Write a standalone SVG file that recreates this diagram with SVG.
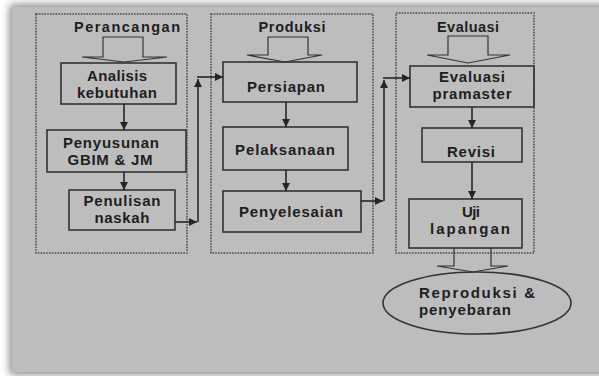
<svg xmlns="http://www.w3.org/2000/svg" width="599" height="376" viewBox="0 0 599 376">
<defs>
<filter id="sh" x="-10%" y="-10%" width="120%" height="120%"><feGaussianBlur stdDeviation="4"/></filter>
<marker id="ah" viewBox="0 0 10 10" refX="10" refY="5" markerWidth="9" markerHeight="8" markerUnits="userSpaceOnUse" orient="auto"><path d="M0,0 L10,5 L0,10 z" fill="#262626"/></marker>
<style>
.grp{fill:none;stroke:#4a4a4a;stroke-width:1.5;stroke-dasharray:1.6 1.2}
.box{fill:none;stroke:#333;stroke-width:1.6}
.big{fill:none;stroke:#333;stroke-width:1.2;stroke-linejoin:miter}
.t{font-family:"Liberation Sans",Arial,sans-serif;font-weight:bold;font-size:15px;fill:#1e1e1e;text-anchor:middle}
.h{font-size:14.5px}
.c{fill:none;stroke:#262626;stroke-width:1.6}
</style>
</defs>
<rect width="599" height="376" fill="#ffffff"/>
<rect x="10" y="5" width="600" height="369" fill="#7a7a7a" filter="url(#sh)"/>
<rect x="12" y="7" width="590" height="365" fill="#bdbdbd"/>

<g id="perancangan">
<rect class="grp" x="36" y="14" width="151" height="239"/>
<text class="t h" x="127" y="32" textLength="106" lengthAdjust="spacing">Perancangan</text>
<path class="big" d="M103,57 V37 H143 V57 H167 L124,62 L82,57 Z"/>
</g>
<g id="analisis">
<rect class="box" x="61" y="63" width="115" height="41"/>
<text class="t" x="117" y="81" textLength="60" lengthAdjust="spacing">Analisis</text>
<text class="t" x="117" y="98" textLength="80" lengthAdjust="spacing">kebutuhan</text>
</g>
<g id="penyusunan">
<rect class="box" x="47" y="130" width="139" height="42"/>
<text class="t" x="111" y="148" textLength="96" lengthAdjust="spacing">Penyusunan</text>
<text class="t" x="110" y="165" textLength="85" lengthAdjust="spacing">GBIM &amp; JM</text>
</g>
<g id="penulisan">
<rect class="box" x="69" y="190" width="106" height="40"/>
<text class="t" x="122" y="206" textLength="77" lengthAdjust="spacing">Penulisan</text>
<text class="t" x="122" y="223" textLength="55" lengthAdjust="spacing">naskah</text>
</g>

<g id="produksi">
<rect class="grp" x="211" y="14" width="162" height="239"/>
<text class="t h" x="292" y="32" textLength="67" lengthAdjust="spacing">Produksi</text>
<path class="big" d="M268,55 V37 H308 V55 H322 L285,62 L247,55 Z"/>
</g>
<g id="persiapan">
<rect class="box" x="223" y="62" width="134" height="40"/>
<text class="t" x="286" y="92" textLength="78" lengthAdjust="spacing">Persiapan</text>
</g>
<g id="pelaksanaan">
<rect class="box" x="223" y="127" width="125" height="43"/>
<text class="t" x="285" y="155" textLength="100" lengthAdjust="spacing">Pelaksanaan</text>
</g>
<g id="penyelesaian">
<rect class="box" x="223" y="191" width="138" height="41"/>
<text class="t" x="291" y="217" textLength="104" lengthAdjust="spacing">Penyelesaian</text>
</g>

<g id="evaluasi">
<rect class="grp" x="396" y="13" width="138" height="240"/>
<text class="t h" x="468" y="32" textLength="62" lengthAdjust="spacing">Evaluasi</text>
<path class="big" d="M448,55 V36 H488 V55 H510 L468,63 L427,55 Z"/>
</g>
<g id="pramaster">
<rect class="box" x="410" y="66" width="124" height="41"/>
<text class="t" x="472" y="82" textLength="66" lengthAdjust="spacing">Evaluasi</text>
<text class="t" x="472" y="99" textLength="79" lengthAdjust="spacing">pramaster</text>
</g>
<g id="revisi">
<rect class="box" x="422" y="128" width="100" height="34"/>
<text class="t" x="471" y="157" textLength="48" lengthAdjust="spacing">Revisi</text>
</g>
<g id="uji">
<rect class="box" x="409" y="199" width="113" height="49"/>
<text class="t" x="471" y="217" textLength="18" lengthAdjust="spacing">Uji</text>
<text class="t" x="470" y="234" textLength="80" lengthAdjust="spacing">lapangan</text>
</g>
<g id="reproduksi">
<ellipse class="box" cx="477" cy="303" rx="94" ry="31"/>
<text class="t" x="477" y="298" textLength="116" lengthAdjust="spacing">Reproduksi   &amp;</text>
<text class="t" x="465" y="315" textLength="92" lengthAdjust="spacing">penyebaran</text>
</g>

<g id="connectors">
<line class="c" x1="124" y1="104" x2="124" y2="130" marker-end="url(#ah)"/>
<line class="c" x1="124" y1="172" x2="124" y2="190" marker-end="url(#ah)"/>
<line class="c" x1="175" y1="222" x2="197" y2="222" marker-end="url(#ah)"/>
<line class="c" x1="198" y1="222" x2="198" y2="79" marker-end="url(#ah)"/>
<line class="c" x1="197" y1="77" x2="223" y2="77" marker-end="url(#ah)"/>
<line class="c" x1="286" y1="102" x2="286" y2="127" marker-end="url(#ah)"/>
<line class="c" x1="286" y1="170" x2="286" y2="191" marker-end="url(#ah)"/>
<line class="c" x1="361" y1="201" x2="383" y2="201" marker-end="url(#ah)"/>
<line class="c" x1="384" y1="201" x2="384" y2="80" marker-end="url(#ah)"/>
<line class="c" x1="383" y1="78" x2="410" y2="78" marker-end="url(#ah)"/>
<line class="c" x1="472" y1="107" x2="472" y2="128" marker-end="url(#ah)"/>
<line class="c" x1="472" y1="162" x2="472" y2="199" marker-end="url(#ah)"/>
<path class="big" d="M454,248 V266 H437 L473,272 L508,266 H491 V248"/>
</g>
</svg>
